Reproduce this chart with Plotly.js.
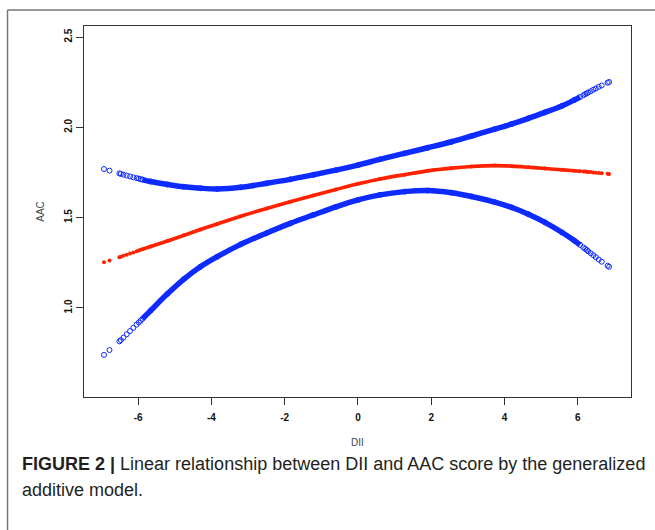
<!DOCTYPE html>
<html>
<head>
<meta charset="utf-8">
<script src="https://cdn.plot.ly/plotly-3.0.1.min.js"></script>
<style>
  html, body { margin: 0; padding: 0; background: #ffffff; }
  #chart { width: 655px; height: 530px; }
</style>
</head>
<body>
<div id="chart"></div>
<script>
// DII values at which the GAM fit and its confidence band are drawn
const dii = [-6.93, -6.78, -6.51, -6.47, -6.40, -6.31, -6.22, -6.13, -6.04, -5.98, -5.93, -5.88,
  -5.66, -5.2, -4.75, -4.3, -3.84, -3.2, -2.49, -1.85, -1.22, -0.6, 0, 0.6, 1.27, 1.9, 2.55, 3.1,
  3.73, 4.2, 4.65, 5.1, 5.56, 5.9, 6.06, 6.15, 6.20, 6.24, 6.28, 6.35, 6.42, 6.49, 6.57, 6.65, 6.81, 6.85];

// fitted AAC score (red)
const fitAAC = [1.253, 1.263, 1.281, 1.284, 1.289, 1.295, 1.301, 1.307, 1.314, 1.318, 1.322, 1.325,
  1.340, 1.371, 1.402, 1.434, 1.465, 1.508, 1.551, 1.588, 1.623, 1.656, 1.687, 1.714, 1.738, 1.759, 1.774, 1.783,
  1.788, 1.785, 1.779, 1.772, 1.765, 1.760, 1.757, 1.756, 1.755, 1.754, 1.753, 1.752, 1.750, 1.749, 1.747, 1.746, 1.743, 1.742];

// upper 95% confidence limit (blue)
const upperCI = [1.769, 1.760, 1.745, 1.742, 1.738, 1.733, 1.728, 1.723, 1.719, 1.716, 1.713, 1.711,
  1.700, 1.684, 1.671, 1.663, 1.659, 1.668, 1.690, 1.712, 1.737, 1.763, 1.791, 1.823, 1.856, 1.887, 1.920, 1.952,
  1.990, 2.019, 2.050, 2.083, 2.118, 2.151, 2.168, 2.178, 2.184, 2.188, 2.193, 2.200, 2.208, 2.215, 2.224, 2.232, 2.247, 2.251];

// lower 95% confidence limit (blue)
const lowerCI = [0.740, 0.767, 0.815, 0.822, 0.836, 0.854, 0.872, 0.890, 0.908, 0.920, 0.930, 0.940,
  0.985, 1.078, 1.160, 1.228, 1.284, 1.352, 1.415, 1.468, 1.515, 1.560, 1.598, 1.626, 1.644, 1.650, 1.638, 1.617,
  1.586, 1.556, 1.519, 1.474, 1.419, 1.373, 1.349, 1.335, 1.327, 1.321, 1.314, 1.303, 1.292, 1.281, 1.268, 1.256, 1.234, 1.228];

const xTicks = [-6, -4, -2, 0, 2, 4, 6];
const yTicks = [1.0, 1.5, 2.0, 2.5];
const yTickText = ['1.0', '1.5', '2.0', '2.5'];

const BLUE = '#0d2bff';
const RED = '#ff2200';
const FONT = 'Liberation Sans, Arial, Helvetica, sans-serif';

// dense part of the sample: drawn as a continuous thick band
const dense = (i) => dii[i] >= -5.9 && dii[i] <= 6.06;
const sub = (arr) => arr.filter((_, i) => dense(i));

const traces = [
  { x: sub(dii), y: sub(upperCI), mode: 'lines', line: { color: BLUE, width: 5.5, shape: 'spline' }, hoverinfo: 'skip' },
  { x: sub(dii), y: sub(lowerCI), mode: 'lines', line: { color: BLUE, width: 5.5, shape: 'spline' }, hoverinfo: 'skip' },
  { x: sub(dii), y: sub(fitAAC), mode: 'lines', line: { color: RED, width: 3.6, shape: 'spline' }, hoverinfo: 'skip' },
  { x: dii, y: upperCI, mode: 'markers', marker: { symbol: 'circle-open', size: 5, color: BLUE, line: { width: 1, color: BLUE } } },
  { x: dii, y: lowerCI, mode: 'markers', marker: { symbol: 'circle-open', size: 5, color: BLUE, line: { width: 1, color: BLUE } } },
  { x: dii, y: fitAAC, mode: 'markers', marker: { symbol: 'circle', size: 4, color: RED, line: { width: 0 } } }
];

// plot area: x 84..631, y 26..397 px
const L = 84, R = 631, T = 26, B = 397;
const px = (v) => (v - L) / (R - L);
const py = (v) => (B - v) / (B - T);

const layout = {
  width: 655, height: 530,
  margin: { l: L, r: 655 - R, t: T, b: 530 - B, pad: 0 },
  paper_bgcolor: '#ffffff', plot_bgcolor: '#ffffff',
  showlegend: false,
  font: { family: FONT, color: '#222' },
  xaxis: {
    range: [-7.476, 7.449], tickvals: xTicks, ticktext: xTicks.map(String),
    ticks: 'outside', ticklen: 7, tickwidth: 1, tickcolor: '#333',
    showline: true, mirror: true, linecolor: '#333', linewidth: 1.3,
    showgrid: false, zeroline: false, ticklabelstandoff: 4,
    tickfont: { family: FONT, size: 10, color: '#111', weight: 'bold' },
    title: { text: 'DII', font: { family: FONT, size: 10, color: '#444' }, standoff: 16 }
  },
  yaxis: {
    range: [0.507, 2.561], tickvals: yTicks, ticktext: yTickText, tickangle: -90,
    ticks: 'outside', ticklen: 7, tickwidth: 1, tickcolor: '#333',
    showline: true, mirror: true, linecolor: '#333', linewidth: 1.3,
    showgrid: false, zeroline: false,
    tickfont: { family: FONT, size: 10, color: '#111', weight: 'bold' },
    title: { text: 'AAC', font: { family: FONT, size: 10, color: '#444' }, standoff: 16 }
  },
  shapes: [
    { type: 'line', xref: 'paper', yref: 'paper', x0: px(7.5), x1: px(7.5), y0: py(10), y1: py(531), line: { color: '#777', width: 1.5 } },
    { type: 'line', xref: 'paper', yref: 'paper', x0: px(7.5), x1: px(656), y0: py(10), y1: py(10), line: { color: '#777', width: 1.5 } }
  ],
  annotations: [
    { xref: 'paper', yref: 'paper', x: px(20), y: py(464), xanchor: 'left', yanchor: 'middle', showarrow: false,
      text: '<b>FIGURE 2 |</b> Linear relationship between DII and AAC score by the generalized',
      font: { family: FONT, size: 18, color: '#231f20' } },
    { xref: 'paper', yref: 'paper', x: px(20), y: py(490), xanchor: 'left', yanchor: 'middle', showarrow: false,
      text: 'additive model.',
      font: { family: FONT, size: 18, color: '#231f20' } }
  ]
};

Plotly.newPlot('chart', traces, layout, { displayModeBar: false, staticPlot: true });
</script>
</body>
</html>
